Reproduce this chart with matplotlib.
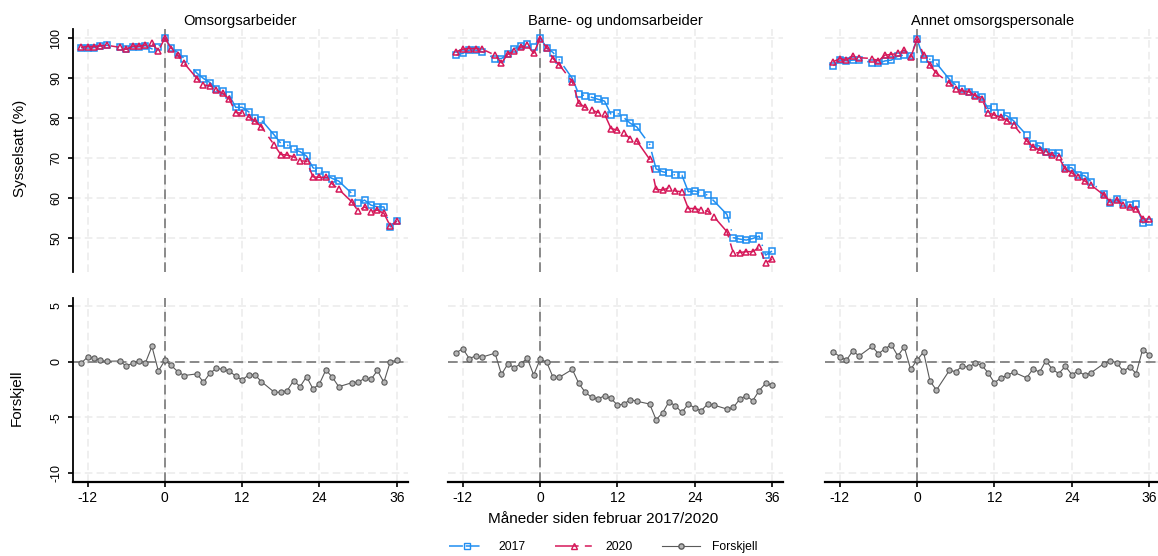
import matplotlib.pyplot as plt

plt.rcParams['font.family'] = ['Liberation Sans', 'DejaVu Sans']
plt.rcParams['axes.unicode_minus'] = False
plt.rcParams['lines.scale_dashes'] = False

# months relative to February 2017/2020 (June is missing every year)
months = [-13, -12, -11, -10, -9, -7, -6, -5, -4, -3, -2, -1, 0, 1, 2, 3,
          5, 6, 7, 8, 9, 10, 11, 12, 13, 14, 15,
          17, 18, 19, 20, 21, 22, 23, 24, 25, 26, 27,
          29, 30, 31, 32, 33, 34, 35, 36]

titles = ['Omsorgsarbeider', 'Barne- og undomsarbeider', 'Annet omsorgspersonale']

# Omsorgsarbeider
oms_2017 = [97.6, 97.5, 97.6, 98.0, 98.2, 97.7, 97.2, 97.8, 97.8, 98.1, 97.3, 97.8, 100.0, 97.6, 96.4, 94.9,
            91.2, 89.9, 88.9, 87.4, 86.75, 85.75, 82.7, 82.7, 81.6, 80.1, 79.5,
            75.75, 73.7, 73.25, 72.2, 71.6, 70.5, 67.6, 66.8, 65.75, 64.9, 64.25,
            61.2, 58.7, 59.5, 58.25, 57.8, 57.8, 52.8, 54.25]
oms_2020 = [97.7, 97.9, 97.9, 98.1, 98.2, 97.7, 97.2, 98.0, 98.0, 98.3, 98.7, 96.8, 100.0, 97.4, 95.7, 93.7,
            89.9, 88.25, 88.1, 87.0, 86.2, 84.75, 81.4, 81.2, 80.3, 79.25, 77.8,
            73.25, 70.9, 70.75, 70.3, 69.3, 69.25, 65.3, 65.2, 65.2, 63.5, 62.2,
            59.1, 56.8, 57.8, 56.6, 57.0, 56.2, 53.0, 54.25]
oms_diff = [-0.15, 0.4, 0.3, 0.1, 0.03, 0.05, -0.4, -0.15, 0.05, -0.1, 1.35, -0.85, 0.1, -0.35, -0.9, -1.25,
            -1.1, -1.85, -1.05, -0.6, -0.7, -0.85, -1.3, -1.65, -1.2, -1.2, -1.8,
            -2.75, -2.75, -2.6, -1.7, -2.25, -1.35, -2.45, -2.0, -0.75, -1.4, -2.25,
            -1.9, -1.85, -1.5, -1.6, -0.8, -1.85, 0.0, 0.1]

# Barne- og undomsarbeider
bua_2017 = [95.75, 96.2, 97.0, 97.0, 96.6, 94.9, 94.9, 96.0, 97.4, 98.0, 98.5, 97.8, 100.1, 97.6, 96.4, 94.5,
            89.9, 86.0, 85.6, 85.2, 84.7, 84.25, 80.9, 81.2, 80.1, 78.7, 77.8,
            73.4, 67.3, 66.6, 66.2, 65.75, 65.75, 61.6, 61.8, 61.3, 60.75, 59.25,
            55.9, 50.1, 49.75, 49.5, 49.9, 50.5, 45.75, 46.75]
bua_2020 = [96.6, 97.25, 97.4, 97.4, 97.25, 95.75, 93.8, 96.0, 96.75, 97.7, 98.25, 96.2, 99.9, 97.6, 94.9, 93.25,
            89.1, 83.7, 82.7, 82.0, 81.4, 81.0, 77.4, 77.0, 76.2, 74.9, 74.3,
            69.7, 62.2, 62.0, 62.6, 61.75, 61.6, 57.4, 57.4, 57.0, 56.75, 55.3,
            51.6, 46.2, 46.4, 46.6, 46.6, 47.7, 43.8, 44.7]
bua_diff = [0.8, 1.15, 0.27, 0.5, 0.4, 0.75, -1.15, -0.2, -0.55, -0.2, 0.3, -1.2, 0.2, -0.03, -1.4, -1.4,
            -0.7, -1.95, -2.75, -3.2, -3.35, -3.05, -3.3, -3.9, -3.8, -3.4, -3.55,
            -3.8, -5.2, -4.6, -3.6, -3.95, -4.55, -3.8, -4.15, -4.4, -3.8, -3.9,
            -4.25, -4.1, -3.35, -3.05, -3.5, -2.6, -1.95, -2.1]

# Annet omsorgspersonale
ann_2017 = [93.1, 94.5, 94.3, 94.5, 94.5, 93.9, 93.7, 94.3, 94.5, 95.5, 95.75, 95.6, 99.7, 94.9, 94.7, 93.7,
            89.7, 88.25, 87.2, 86.6, 85.7, 85.3, 82.4, 82.7, 81.2, 80.5, 79.3,
            75.75, 73.5, 73.0, 71.6, 71.3, 71.2, 67.6, 67.6, 65.75, 65.6, 64.1,
            61.0, 58.8, 59.7, 58.8, 58.25, 58.5, 53.8, 54.1]
ann_2020 = [94.1, 94.9, 94.5, 95.5, 95.1, 94.9, 94.3, 95.75, 95.9, 96.2, 97.0, 95.2, 99.7, 95.9, 93.25, 91.2,
            88.8, 87.4, 86.8, 86.6, 85.6, 84.9, 81.4, 80.75, 80.2, 79.3, 78.25,
            74.3, 72.8, 72.0, 71.6, 70.75, 70.2, 67.2, 66.3, 65.2, 64.3, 63.25,
            60.75, 59.1, 59.5, 58.25, 57.8, 57.4, 54.9, 54.7]
ann_diff = [0.85, 0.45, 0.1, 0.95, 0.5, 1.35, 0.7, 1.15, 1.5, 0.5, 1.3, -0.7, 0.15, 0.85, -1.75, -2.55,
            -0.8, -0.9, -0.4, -0.5, -0.15, -0.3, -1.0, -1.9, -1.46, -1.22, -0.95,
            -1.46, -0.65, -0.95, 0.09, -0.71, -1.07, -0.42, -1.16, -0.86, -1.22, -1.0,
            -0.18, 0.09, -0.12, -0.86, -0.48, -1.07, 1.07, 0.63]

series_2017 = [oms_2017, bua_2017, ann_2017]
series_2020 = [oms_2020, bua_2020, ann_2020]
series_diff = [oms_diff, bua_diff, ann_diff]

xticks = [-12, 0, 12, 24, 36]
top_yticks = [50, 60, 70, 80, 90, 100]
bot_yticks = [-10, -5, 0, 5]

blue = '#1f8ef1'
red = '#d6195a'
gray = '#5a5a5a'
gridc = '#ebebeb'
refc = '#787878'

W, H = 1158, 556
fig = plt.figure(figsize=(W / 100, H / 100), dpi=100)


def px_axes(left, top, width, height):
    return fig.add_axes([left / W, 1 - (top + height) / H, width / W, height / H])


def style(ax, first, bottom_axis):
    for s in ['top', 'right']:
        ax.spines[s].set_visible(False)
    ax.spines['left'].set_visible(first)
    ax.spines['bottom'].set_visible(bottom_axis)
    ax.spines['left'].set_linewidth(1.3)
    ax.spines['bottom'].set_linewidth(1.6)
    ax.set_xlim(-14.3, 37.7)
    ax.set_xticks(xticks)
    ax.grid(True, color=gridc, linestyle=(0, (5.5, 3)), linewidth=1.1)
    ax.set_axisbelow(True)
    ax.tick_params(axis='y', left=first, labelleft=first, length=3.6, width=1.2,
                   labelsize=9, pad=4)
    ax.tick_params(axis='x', bottom=bottom_axis, labelbottom=bottom_axis,
                   length=3.6, width=1.2, labelsize=10, pad=3)
    ax.axvline(0, color=refc, linestyle=(0, (7, 3.5)), linewidth=1.2, zorder=1.5)


lefts = [72.7, 448, 825]
for i in range(3):
    first = i == 0
    ax = px_axes(lefts[i], 29.3, 335, 242.4)
    style(ax, first, False)
    ax.set_ylim(41.6, 102.2)
    ax.set_yticks(top_yticks)
    if first:
        ax.set_yticklabels([str(v) for v in top_yticks], rotation=90, va='center')
    ax.set_title(titles[i], fontsize=10.5, pad=3)
    ax.plot(months, series_2017[i], color=blue, linewidth=1.1, linestyle=(0, (21, 5, 1, 5)),
            marker='s', markersize=4.5, markerfacecolor='none', markeredgecolor=blue,
            markeredgewidth=1.1, zorder=3)
    ax.plot(months, series_2020[i], color=red, linewidth=1.1, linestyle=(0, (17, 4.5, 5, 4.5)),
            marker='^', markersize=4.9, markerfacecolor='none', markeredgecolor=red,
            markeredgewidth=1.1, zorder=4)

    bx = px_axes(lefts[i], 298.3, 335, 183.4)
    style(bx, first, True)
    bx.set_ylim(-10.75, 5.66)
    bx.set_yticks(bot_yticks)
    if first:
        bx.set_yticklabels([str(v) for v in bot_yticks], rotation=90, va='center')
    bx.axhline(0, color=refc, linestyle=(0, (7, 3.5)), linewidth=1.2, zorder=1.5)
    bx.plot(months, series_diff[i], color=gray, linewidth=0.8, marker='o', markersize=3.8,
            markerfacecolor='#b5b5b5', markeredgecolor=gray, markeredgewidth=0.8, zorder=3)

fig.text(20.5 / W, 1 - 148 / H, 'Sysselsatt (%)', rotation=90, ha='center', va='center', fontsize=11)
fig.text(17 / W, 1 - 398 / H, 'Forskjell', rotation=90, ha='center', va='center', fontsize=11)
fig.text(603 / W, 1 - 519 / H, 'Måneder siden februar 2017/2020', ha='center', va='center', fontsize=11)

h1, = plt.plot([], [], color=blue, linewidth=1.1, linestyle=(0, (10, 2, 10, 5, 1, 5)),
               marker='s', markersize=4.5, markerfacecolor='none', markeredgecolor=blue)
h2, = plt.plot([], [], color=red, linewidth=1.1, linestyle=(0, (17, 4.5, 5, 4.5)),
               marker='^', markersize=4.9, markerfacecolor='none', markeredgecolor=red)
h3, = plt.plot([], [], color=gray, linewidth=0.8, marker='o', markersize=3.8,
               markerfacecolor='#b5b5b5', markeredgecolor=gray)
fig.legend([h1, h2, h3], ['2017', '2020', 'Forskjell'], loc='center',
           bbox_to_anchor=(603 / W, 1 - 547 / H), ncol=3, frameon=False, fontsize=8.7,
           handlelength=3.1, handletextpad=1.0, columnspacing=2.5, numpoints=1)

fig.savefig('out.png', dpi=100, facecolor='white')
